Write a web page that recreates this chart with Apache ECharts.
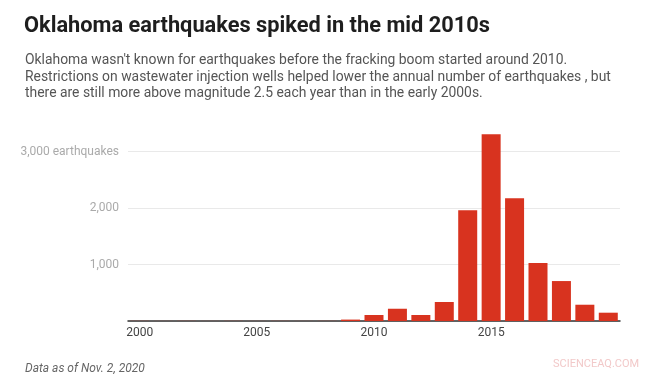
<!DOCTYPE html>
<html>
<head>
<meta charset="utf-8">
<script src="https://cdn.jsdelivr.net/npm/echarts@6/dist/echarts.min.js"></script>
<style>
html,body{margin:0;padding:0;background:#fff;}
#chart{width:652px;height:374px;}
</style>
</head>
<body>
<div id="chart"></div>
<script>
const years = ['2000','2001','2002','2003','2004','2005','2006','2007','2008','2009','2010','2011','2012','2013','2014','2015','2016','2017','2018','2019','2020'];
const quakes = [2, 1, 2, 1, 2, 1, 2, 1, 2, 25, 106, 217, 106, 336, 1961, 3304, 2173, 1025, 707, 288, 147];
const yTicks = [0, 1000, 2000, 3000];
const shownYears = ['2000','2005','2010','2015'];

const chart = echarts.init(document.getElementById('chart'), null, {renderer:'canvas'});
const FONT = 'Roboto';
chart.setOption({
  animation: false,
  backgroundColor: '#fff',
  title: [
    {text: 'Oklahoma earthquakes spiked in the mid 2010s', left: 19, top: 9,
     textStyle: {fontFamily: FONT, fontSize: 21.8, fontWeight: 'bold', color: '#1e1e1e', lineHeight: 26}},
    {text: "Oklahoma wasn't known for earthquakes before the fracking boom started around 2010.\nRestrictions on wastewater injection wells helped lower the annual number of earthquakes , but\nthere are still more above magnitude 2.5 each year than in the early 2000s.",
     left: 20, top: 47,
     textStyle: {fontFamily: FONT, fontSize: 13.9, fontWeight: 'normal', color: '#555', lineHeight: 16.7}},
    {text: 'Data as of Nov. 2, 2020', left: 20, top: 358,
     textStyle: {fontFamily: FONT, fontSize: 12, fontWeight: 'normal', fontStyle: 'italic', color: '#666'}}
  ],
  graphic: [
    {type: 'text', left: 553, top: 359,
     style: {text: 'SCIENCEAQ.COM', fontFamily: FONT, fontSize: 11, fill: '#f2c9c9'}}
  ],
  grid: {left: 128, right: 32, top: 151.5, bottom: 53},
  xAxis: {
    type: 'category',
    data: years,
    axisLine: {lineStyle: {color: '#333', width: 1.5}},
    axisTick: {show: false},
    axisLabel: {
      color: '#444', fontFamily: FONT, fontSize: 12, margin: 6,
      interval: 0,
      formatter: v => shownYears.includes(v) ? v : ''
    }
  },
  yAxis: {
    type: 'value',
    min: yTicks[0], max: yTicks[yTicks.length-1], interval: 1000,
    axisLine: {show: false},
    axisTick: {show: false},
    splitLine: {lineStyle: {color: '#e9e9e9', width: 1}},
    axisLabel: {
      color: '#aaa', fontFamily: FONT, fontSize: 12, margin: 9,
      formatter: v => v === 0 ? '' : (v === 3000 ? '3,000 earthquakes' : v.toLocaleString('en-US'))
    }
  },
  series: [{
    type: 'bar',
    data: quakes,
    clip: false,
    barWidth: 19,
    itemStyle: {color: '#d8331f'}
  }]
});
</script>
</body>
</html>
